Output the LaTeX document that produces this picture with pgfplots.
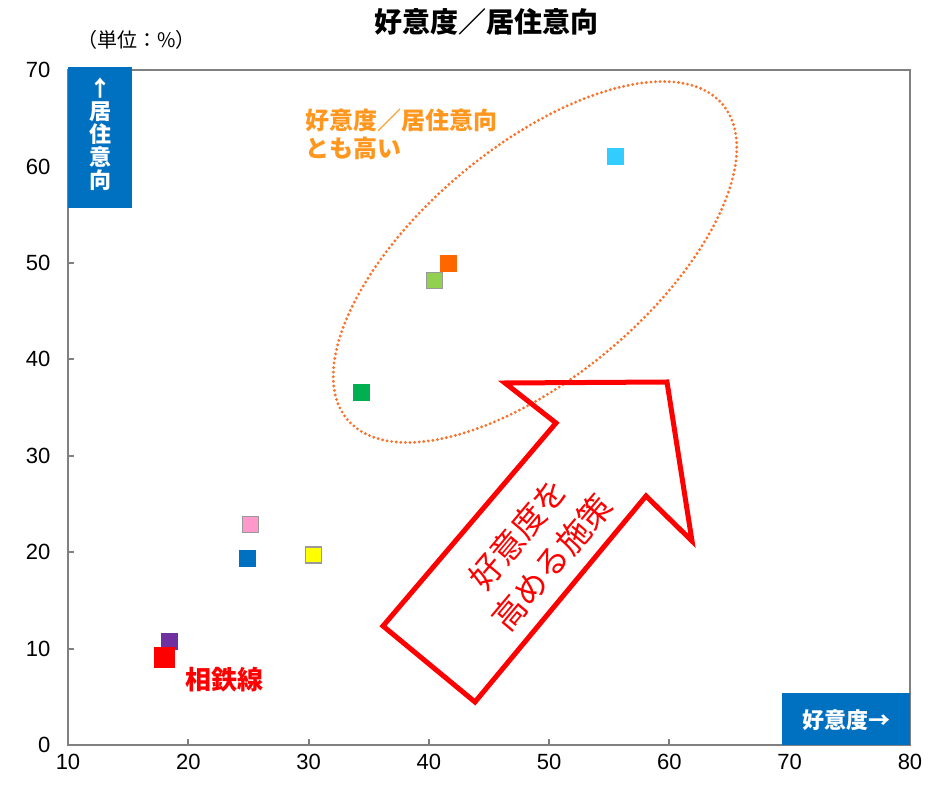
\documentclass[border=0pt]{standalone}
\usepackage{fontspec}
\setmainfont{Liberation Sans}
\newfontfamily\cjk{Noto Sans CJK JP}
\usepackage{pgfplots}
\pgfplotsset{compat=1.18}
\definecolor{cCyan}{RGB}{51,204,255}
\definecolor{cOrange}{RGB}{255,102,0}
\definecolor{cLGreen}{RGB}{146,208,80}
\definecolor{cGreen}{RGB}{0,176,80}
\definecolor{cPink}{RGB}{255,153,204}
\definecolor{cBlue}{RGB}{0,112,192}
\definecolor{cYellow}{RGB}{255,255,0}
\definecolor{cPurple}{RGB}{112,48,160}
\definecolor{cRed}{RGB}{255,0,0}
\definecolor{cFrame}{RGB}{128,128,128}
\definecolor{cOText}{RGB}{255,150,30}
\definecolor{cEll}{RGB}{250,115,45}
\begin{document}
\begin{tikzpicture}
\begin{axis}[
  scale only axis, width=842pt, height=675pt,
  at={(0,0)}, anchor=south west,
  xmin=10, xmax=80, ymin=0, ymax=70,
  xtick={10,20,...,80}, ytick={0,10,...,70},
  tick align=inside, xtick pos=bottom, ytick pos=left,
  major tick length=6pt,
  axis line style={cFrame, line width=2pt},
  every tick/.style={cFrame, line width=2pt},
  tick label style={font=\fontsize{22}{24}\selectfont},
  /pgf/number format/assume math mode=true,
  xticklabel style={yshift=-6pt},
  yticklabel style={xshift=-14pt},
  clip=false,
]
\addplot[only marks, mark=square*, mark size=8pt, mark options={draw=cCyan, fill=cCyan}] coordinates {(55.5,61.1)};
\addplot[only marks, mark=square*, mark size=8pt, mark options={draw=cOrange, fill=cOrange}] coordinates {(41.6,50.0)};
\addplot[only marks, mark=square*, mark size=8pt, mark options={draw=cFrame!80, fill=cLGreen, line width=1.2pt}] coordinates {(40.5,48.2)};
\addplot[only marks, mark=square*, mark size=8pt, mark options={draw=cGreen, fill=cGreen}] coordinates {(34.4,36.6)};
\addplot[only marks, mark=square*, mark size=8pt, mark options={draw=cFrame!80, fill=cPink, line width=1.2pt}] coordinates {(25.2,22.9)};
\addplot[only marks, mark=square*, mark size=8pt, mark options={draw=cBlue, fill=cBlue}] coordinates {(24.9,19.4)};
\addplot[only marks, mark=square*, mark size=8pt, mark options={draw=cFrame!80, fill=cYellow, line width=1.2pt}] coordinates {(30.4,19.7)};
\addplot[only marks, mark=square*, mark size=8pt, mark options={draw=cPurple, fill=cPurple}] coordinates {(18.4,10.8)};
\addplot[only marks, mark=square*, mark size=10pt, mark options={draw=cRed, fill=cRed}] coordinates {(18.0,9.1)};
\end{axis}
% annotations in pixel coordinates of the reference
\draw[cEll, line width=3.2pt, line cap=round, dash pattern=on 0pt off 4.6pt]
  (467pt,483pt) ellipse[x radius=245pt, y radius=115pt, rotate=40];
\begin{scope}[x=1pt, y=-1pt, shift={(-68pt,745pt)}]
  \draw[cRed, line width=5pt, line join=miter]
    (383,626) -- (556,423) -- (505,383) -- (667,382) -- (692,541) -- (646,496) -- (475,702) -- cycle;
  \node[cRed, rotate=50, align=center, font=\cjk\fontsize{33}{44}\selectfont] at (535,548) {好意度を\\高める施策};
  \fill[cBlue] (68,67) rectangle (132,208);
  \node[white, align=center, font=\cjk\bfseries\fontsize{22}{23}\selectfont, anchor=north] at (100,74) {↑\\居\\住\\意\\向};
  \fill[cBlue] (782,693) rectangle (910,745);
  \node[white, font=\cjk\bfseries\fontsize{22}{24}\selectfont] at (846,720) {好意度→};
  \node[cOText, anchor=west, align=left, font=\cjk\bfseries\fontsize{24}{28}\selectfont] at (302,134) {好意度／居住意向\\とも高い};
  \node[cRed, anchor=west, font=\cjk\bfseries\fontsize{26}{28}\selectfont] at (182,680) {相鉄線};
  \node[black, font=\cjk\bfseries\fontsize{28}{30}\selectfont] at (486,22) {好意度／居住意向};
  \node[black, anchor=west, font=\cjk\fontsize{20}{22}\selectfont] at (74,40) {（単位：\%）};
  \pgfresetboundingbox
  \path (0,0) rectangle (938,788);
\end{scope}
\end{tikzpicture}
\end{document}
